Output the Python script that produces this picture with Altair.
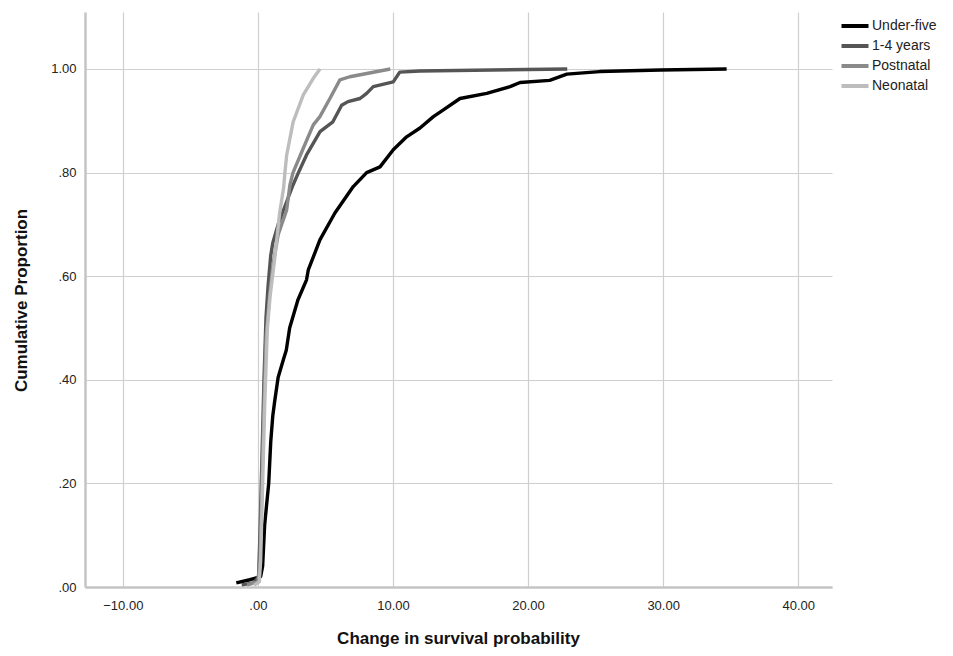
import altair as alt
import pandas as pd

groups = ["Under-five", "1-4 years", "Postnatal", "Neonatal"]
colors = ["#000000", "#555555", "#8a8a8a", "#bdbdbd"]

u5_x = [-1.6, -0.6, 0.2, 0.35, 0.5, 0.8, 0.95, 1.1, 1.25, 1.5, 1.9, 2.1, 2.35, 2.96, 3.6, 3.73, 4.59,
        5.7, 7.06, 8.05, 9.04, 10.02, 11.01, 12.0, 12.99, 13.73, 14.96, 16.94, 18.67, 19.41, 21.6,
        22.87, 25.3, 29.8, 34.7]
u5_y = [0.008, 0.014, 0.02, 0.04, 0.12, 0.2, 0.28, 0.33, 0.36, 0.405, 0.44, 0.457, 0.5, 0.554, 0.593,
        0.612, 0.67, 0.722, 0.773, 0.8, 0.811, 0.844, 0.869, 0.886, 0.908, 0.921, 0.943, 0.953, 0.966,
        0.974, 0.978, 0.99, 0.995, 0.998, 1.0]

c14_x = [-1.2, -0.3, 0.05, 0.15, 0.3, 0.45, 0.6, 0.75, 0.95, 1.1, 1.5, 2.0, 2.6, 3.0, 3.6, 4.6, 5.55,
         6.2, 6.67, 7.56, 8.05, 8.54, 10.02, 10.5, 12.0, 22.9]
c14_y = [0.004, 0.008, 0.02, 0.1, 0.25, 0.4, 0.52, 0.58, 0.64, 0.664, 0.7, 0.735, 0.776, 0.8, 0.834,
         0.879, 0.898, 0.93, 0.937, 0.943, 0.953, 0.966, 0.975, 0.994, 0.996, 1.0]

post_x = [-0.8, 0.0, 0.15, 0.3, 0.45, 0.6, 0.85, 1.1, 1.5, 2.13, 2.37, 2.6, 3.36, 4.1, 4.59, 5.33,
          6.07, 6.8, 9.8]
post_y = [0.004, 0.01, 0.05, 0.2, 0.35, 0.48, 0.56, 0.62, 0.68, 0.728, 0.776, 0.8, 0.847, 0.892,
          0.908, 0.943, 0.979, 0.985, 1.0]

neo_x = [-0.3, 0.1, 0.2, 0.35, 0.5, 0.7, 0.9, 1.26, 1.6, 1.9, 2.0, 2.13, 2.61, 3.36, 4.1, 4.6]
neo_y = [0.003, 0.01, 0.05, 0.2, 0.35, 0.5, 0.56, 0.638, 0.72, 0.77, 0.8, 0.834, 0.898, 0.95,
         0.982, 1.0]

x_ticks = [-10, 0, 10, 20, 30, 40]
y_ticks = [0.0, 0.2, 0.4, 0.6, 0.8, 1.0]

rows = []
for g, xs, ys in zip(groups, [u5_x, c14_x, post_x, neo_x], [u5_y, c14_y, post_y, neo_y]):
    for i, (a, b) in enumerate(zip(xs, ys)):
        rows.append({"group": g, "x": a, "y": b, "i": i})
df = pd.DataFrame(rows)

font = "Liberation Sans"

chart = alt.Chart(df).mark_line(strokeWidth=3.4, strokeJoin="round").encode(
    x=alt.X("x:Q",
            scale=alt.Scale(domain=[-12.8, 42.5], nice=False, zero=False),
            axis=alt.Axis(values=x_ticks, title="Change in survival probability",
                          labelExpr="datum.value == 0 ? '.00' : format(datum.value, '.2f')",
                          ticks=False, labelPadding=12, labelFontSize=13, labelColor="#222",
                          titleFontSize=17, titleFontWeight="bold", titleColor="#111",
                          titleX=373, titleY=51, titleBaseline="middle", titleAlign="center",
                          domainColor="#c4c4c4", domainWidth=2.5,
                          gridColor="#cfcfcf", gridWidth=1.2)),
    y=alt.Y("y:Q",
            scale=alt.Scale(domain=[0, 1.11], nice=False),
            axis=alt.Axis(values=y_ticks, title="Cumulative Proportion",
                          labelExpr="datum.value < 1 ? substring(format(datum.value, '.2f'), 1) : format(datum.value, '.2f')",
                          ticks=False, labelPadding=9, labelFontSize=13, labelColor="#222",
                          titleFontSize=17, titleFontWeight="bold", titleColor="#111",
                          titleX=-64, titleY=288, titleAngle=-90, titleBaseline="middle",
                          titleAlign="center",
                          domainColor="#c4c4c4", domainWidth=2.5,
                          gridColor="#cfcfcf", gridWidth=1.2)),
    color=alt.Color("group:N",
                    scale=alt.Scale(domain=groups, range=colors),
                    sort=groups,
                    legend=alt.Legend(title=None, orient="none", legendX=759, legendY=3,
                                      symbolType="M-1.5,0H1.5", symbolSize=324,
                                      symbolStrokeWidth=4, symbolFillColor="transparent",
                                      labelFontSize=14, labelColor="#222", labelFont=font,
                                      rowPadding=1, labelOffset=6)),
    order=alt.Order("i:Q"),
    detail="group:N",
).properties(
    width=747,
    height=575,
    autosize=alt.AutoSizeParams(type="none"),
    padding={"left": 77, "top": 4, "right": 112, "bottom": 60},
).configure(font=font).configure_view(stroke=None)

chart.save("out.html", embed_options={"renderer": "svg", "actions": False})
